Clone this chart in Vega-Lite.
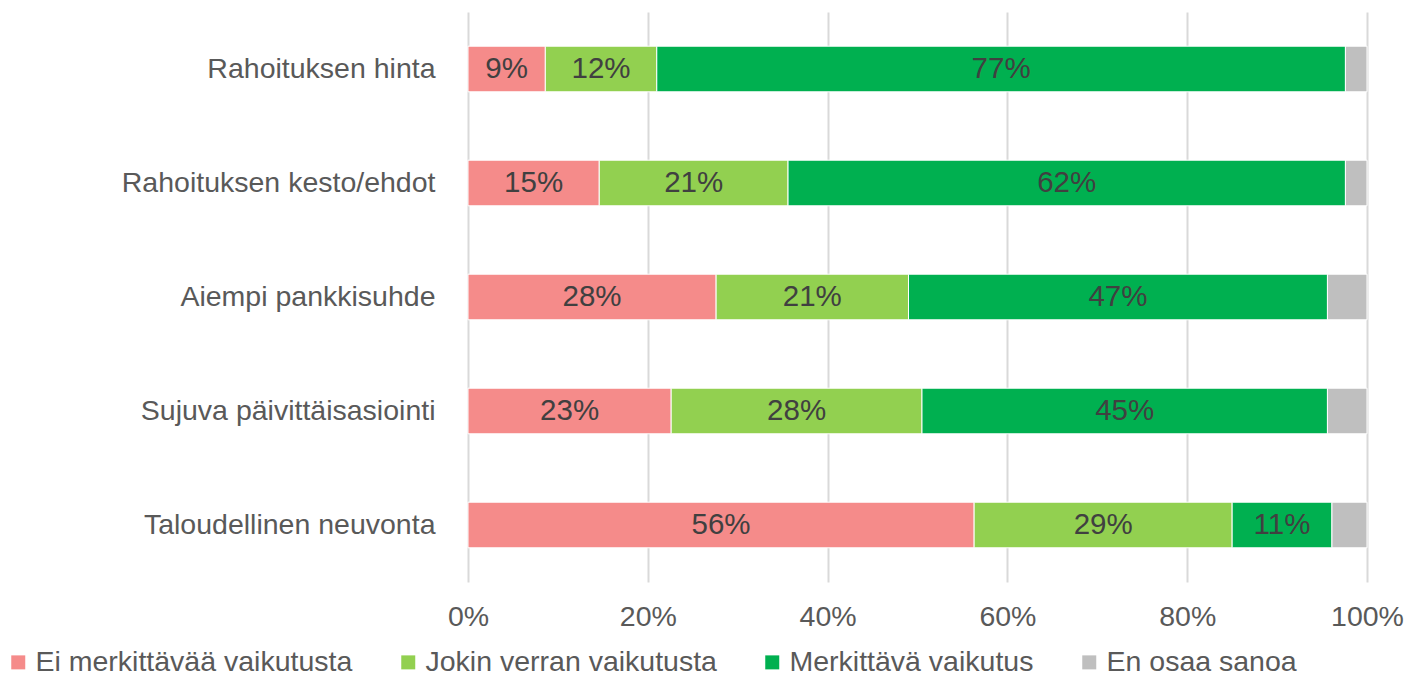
{
  "$schema": "https://vega.github.io/schema/vega-lite/v6.json",
  "width": 899,
  "height": 570,
  "autosize": {"type": "none"},
  "padding": {"left": 468, "top": 12, "right": 41, "bottom": 96},
  "background": "white",
  "config": {"view": {"stroke": null}, "font": "Liberation Sans"},
  "data": {
    "values": [
      {"item": "Rahoituksen hinta", "cat": "Ei merkittävää vaikutusta", "order": 1, "pct": 0.086},
      {"item": "Rahoituksen hinta", "cat": "Jokin verran vaikutusta", "order": 2, "pct": 0.124},
      {"item": "Rahoituksen hinta", "cat": "Merkittävä vaikutus", "order": 3, "pct": 0.766},
      {"item": "Rahoituksen hinta", "cat": "En osaa sanoa", "order": 4, "pct": 0.024},
      {"item": "Rahoituksen kesto/ehdot", "cat": "Ei merkittävää vaikutusta", "order": 1, "pct": 0.146},
      {"item": "Rahoituksen kesto/ehdot", "cat": "Jokin verran vaikutusta", "order": 2, "pct": 0.210},
      {"item": "Rahoituksen kesto/ehdot", "cat": "Merkittävä vaikutus", "order": 3, "pct": 0.620},
      {"item": "Rahoituksen kesto/ehdot", "cat": "En osaa sanoa", "order": 4, "pct": 0.024},
      {"item": "Aiempi pankkisuhde", "cat": "Ei merkittävää vaikutusta", "order": 1, "pct": 0.276},
      {"item": "Aiempi pankkisuhde", "cat": "Jokin verran vaikutusta", "order": 2, "pct": 0.214},
      {"item": "Aiempi pankkisuhde", "cat": "Merkittävä vaikutus", "order": 3, "pct": 0.466},
      {"item": "Aiempi pankkisuhde", "cat": "En osaa sanoa", "order": 4, "pct": 0.044},
      {"item": "Sujuva päivittäisasiointi", "cat": "Ei merkittävää vaikutusta", "order": 1, "pct": 0.226},
      {"item": "Sujuva päivittäisasiointi", "cat": "Jokin verran vaikutusta", "order": 2, "pct": 0.279},
      {"item": "Sujuva päivittäisasiointi", "cat": "Merkittävä vaikutus", "order": 3, "pct": 0.451},
      {"item": "Sujuva päivittäisasiointi", "cat": "En osaa sanoa", "order": 4, "pct": 0.044},
      {"item": "Taloudellinen neuvonta", "cat": "Ei merkittävää vaikutusta", "order": 1, "pct": 0.563},
      {"item": "Taloudellinen neuvonta", "cat": "Jokin verran vaikutusta", "order": 2, "pct": 0.287},
      {"item": "Taloudellinen neuvonta", "cat": "Merkittävä vaikutus", "order": 3, "pct": 0.111},
      {"item": "Taloudellinen neuvonta", "cat": "En osaa sanoa", "order": 4, "pct": 0.039}
    ]
  },
  "transform": [
    {"stack": "pct", "groupby": ["item"], "sort": [{"field": "order"}], "as": ["x0", "x1"]},
    {"calculate": "(datum.x0 + datum.x1) / 2", "as": "xm"}
  ],
  "encoding": {
    "y": {
      "field": "item",
      "type": "nominal",
      "sort": ["Rahoituksen hinta", "Rahoituksen kesto/ehdot", "Aiempi pankkisuhde", "Sujuva päivittäisasiointi", "Taloudellinen neuvonta"],
      "scale": {"paddingInner": 0.6, "paddingOuter": 0.3},
      "axis": {
        "title": null,
        "domain": false,
        "ticks": false,
        "labelPadding": 33,
        "labelFontSize": 28.5,
        "labelColor": "#595959",
        "labelLimit": 500
      }
    }
  },
  "layer": [
    {
      "mark": {"type": "bar", "stroke": "white", "strokeWidth": 1},
      "encoding": {
        "x": {
          "field": "x0",
          "type": "quantitative",
          "scale": {"domain": [0, 1], "nice": false},
          "axis": {
            "title": null,
            "format": ".0%",
            "values": [0, 0.2, 0.4, 0.6, 0.8, 1],
            "grid": true,
            "gridColor": "#D9D9D9",
            "gridWidth": 2,
            "domain": false,
            "ticks": false,
            "labelFlush": false,
            "labelPadding": 20,
            "labelFontSize": 28.5,
            "labelColor": "#595959"
          }
        },
        "x2": {"field": "x1"},
        "color": {
          "field": "cat",
          "type": "nominal",
          "scale": {
            "domain": ["Ei merkittävää vaikutusta", "Jokin verran vaikutusta", "Merkittävä vaikutus", "En osaa sanoa"],
            "range": ["#F58B8A", "#92D050", "#00B050", "#BFBFBF"]
          },
          "legend": {
            "title": null,
            "orient": "none",
            "direction": "horizontal",
            "legendX": -464,
            "legendY": 636,
            "columnPadding": 41,
            "symbolType": "square",
            "symbolSize": 196,
            "symbolStrokeWidth": 0,
            "labelOffset": 3,
            "labelFontSize": 28.5,
            "labelColor": "#595959",
            "labelLimit": 500
          }
        }
      }
    },
    {
      "transform": [{"filter": "datum.cat !== 'En osaa sanoa'"}],
      "mark": {"type": "text", "fontSize": 29.5, "color": "#404040", "align": "center", "baseline": "middle"},
      "encoding": {
        "x": {"field": "xm", "type": "quantitative"},
        "text": {"field": "pct", "type": "quantitative", "format": ".0%"}
      }
    }
  ]
}
